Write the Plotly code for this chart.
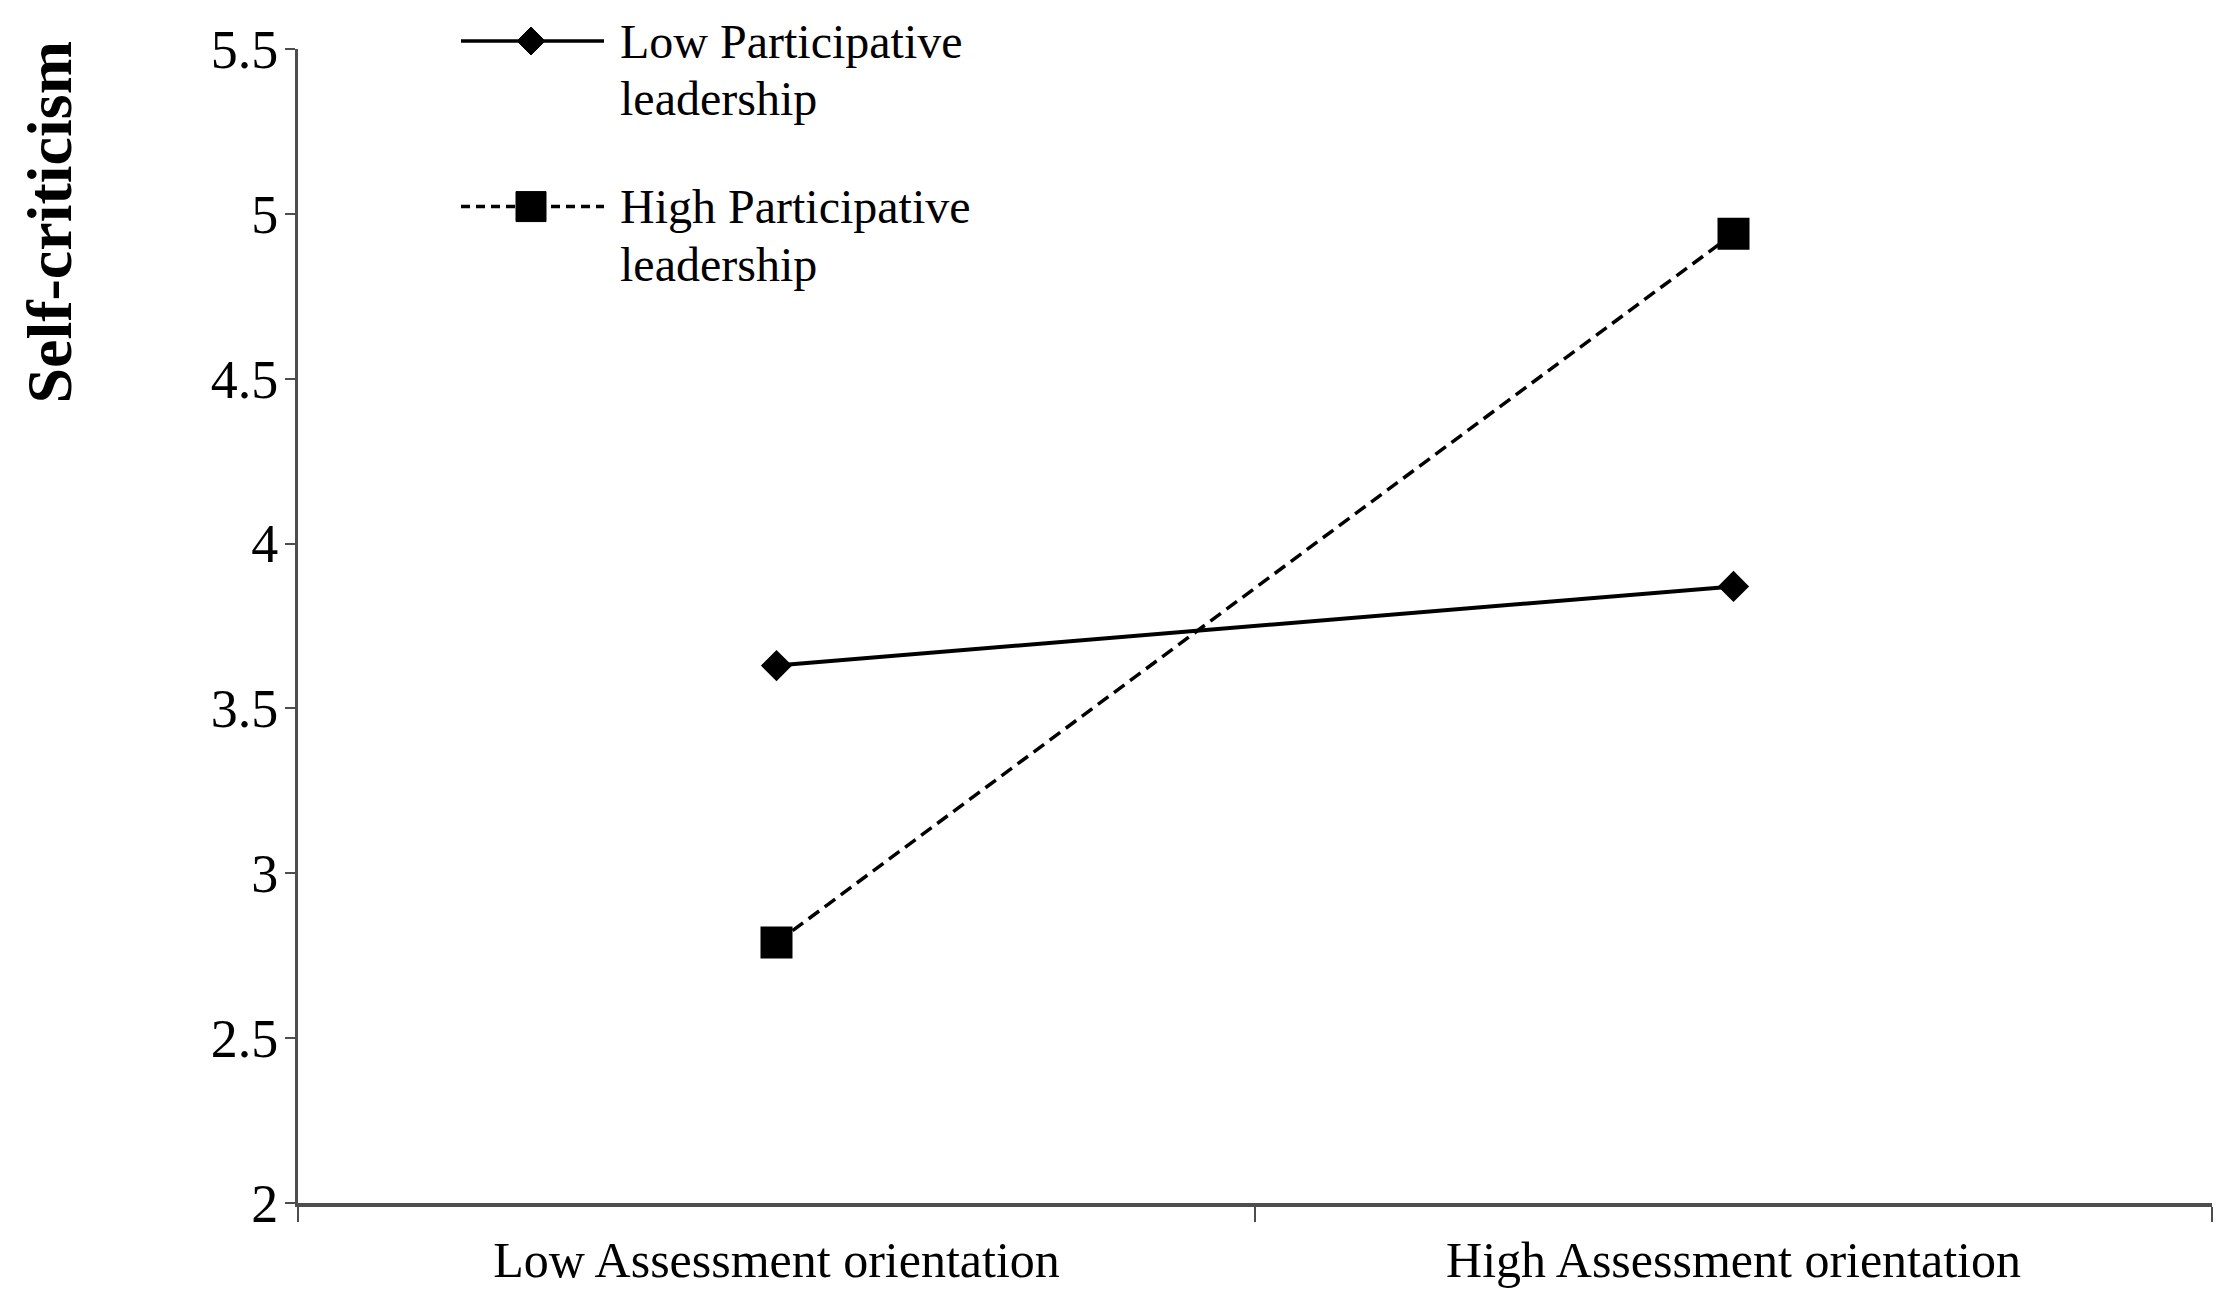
import plotly.graph_objects as go

categories = ["Low Assessment orientation", "High Assessment orientation"]
low_participative = [3.63, 3.87]
high_participative = [2.79, 4.94]
y_ticks = [2, 2.5, 3, 3.5, 4, 4.5, 5, 5.5]
series_names = [["Low Participative", "leadership"], ["High Participative", "leadership"]]

serif = "Liberation Serif, Times New Roman, serif"
axis_grey = "#4d4d4d"

fig = go.Figure()

fig.add_trace(
    go.Scatter(
        x=categories,
        y=low_participative,
        mode="lines+markers",
        line=dict(color="black", width=4),
        marker=dict(symbol="diamond", size=24, color="black"),
        showlegend=False,
    )
)
fig.add_trace(
    go.Scatter(
        x=categories,
        y=high_participative,
        mode="lines+markers",
        line=dict(color="black", width=3.5, dash="13px,7px"),
        marker=dict(symbol="square", size=32, color="black"),
        showlegend=False,
    )
)

# hand-built legend (long sample lines like the original)
# pixel positions below are page pixels; plot area spans x 298..2212, y 46..1203
legend_rows = [(38, "solid", "diamond"), (204, "dash", "square")]
shapes = []
annotations = []
for (ypx, dash, sym), lines in zip(legend_rows, series_names):
    yp = (1203 - ypx) / 1157
    x0 = (461 - 298) / 1914
    x1 = (604 - 298) / 1914
    xm = (531 - 298) / 1914
    shapes.append(
        dict(
            type="line", xref="paper", yref="paper", x0=x0, x1=x1, y0=yp, y1=yp,
            line=dict(color="black", width=3.5, dash="solid" if dash == "solid" else "9px,6px"),
        )
    )
    if sym == "diamond":
        shapes.append(
            dict(
                type="path", xref="paper", yref="paper", xsizemode="pixel", ysizemode="pixel",
                xanchor=xm, yanchor=yp, path="M -14 0 L 0 14 L 14 0 L 0 -14 Z",
                fillcolor="black", line=dict(color="black", width=1),
            )
        )
    else:
        shapes.append(
            dict(
                type="rect", xref="paper", yref="paper", xsizemode="pixel", ysizemode="pixel",
                xanchor=xm, yanchor=yp, x0=-15, x1=15, y0=-15, y1=15,
                fillcolor="black", line=dict(color="black", width=1),
            )
        )
    for i, txt in enumerate(lines):
        annotations.append(
            dict(
                text=txt, xref="paper", yref="paper", x=(618 - 298) / 1914,
                y=(1203 - ypx - i * 58) / 1157, xanchor="left", yanchor="middle",
                showarrow=False, font=dict(family=serif, size=48, color="black"),
            )
        )

annotations.append(
    dict(
        text="<b>Self-criticism</b>", xref="paper", yref="paper",
        x=(50 - 298) / 1914, y=(1203 - 220) / 1157, xanchor="center", yanchor="middle",
        textangle=-90, showarrow=False, font=dict(family=serif, size=64, color="black"),
    )
)

# page has an 8px body margin, so the figure is 16px smaller than the window
fig.update_layout(
    width=2222,
    height=1293,
    margin=dict(l=290, r=18, t=38, b=98),
    paper_bgcolor="white",
    plot_bgcolor="white",
    shapes=shapes,
    annotations=annotations,
    xaxis=dict(
        type="category",
        range=[-0.5, 1.5],
        tickson="boundaries",
        showline=True,
        linecolor=axis_grey,
        linewidth=4,
        ticks="outside",
        ticklen=15,
        tickwidth=2,
        tickcolor=axis_grey,
        showgrid=False,
        zeroline=False,
        ticklabelstandoff=10,
        tickfont=dict(family=serif, size=50, color="black"),
    ),
    yaxis=dict(
        range=[2, 5.5],
        tickvals=y_ticks,
        ticktext=[f"{v:g}" for v in y_ticks],
        showline=True,
        linecolor=axis_grey,
        linewidth=3,
        ticks="outside",
        ticklen=10,
        tickwidth=2,
        tickcolor=axis_grey,
        showgrid=False,
        zeroline=False,
        ticklabelstandoff=-4,
        tickfont=dict(family=serif, size=54, color="black"),
    ),
)

fig.write_html("out.html")
